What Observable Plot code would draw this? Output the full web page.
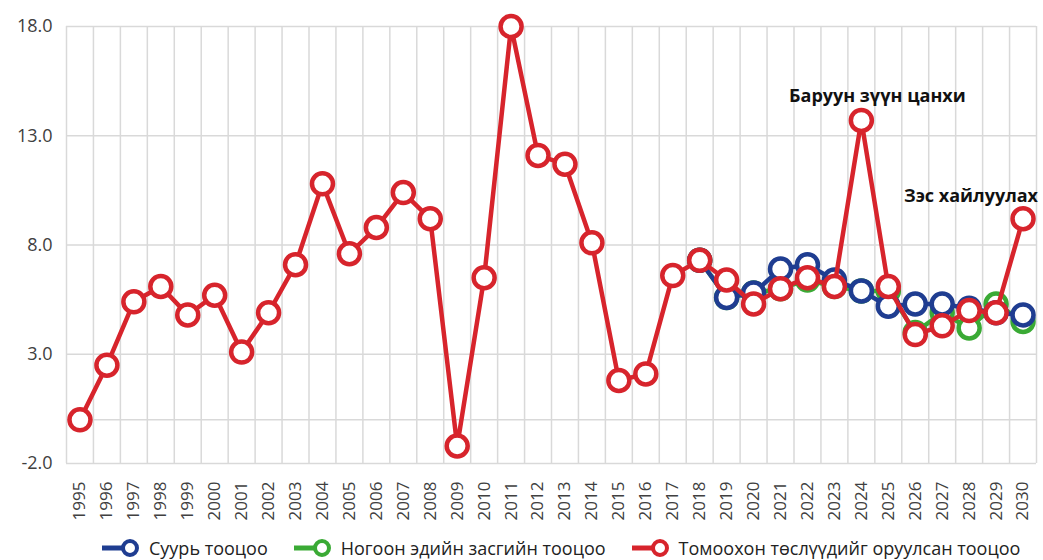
<!DOCTYPE html>
<html>
<head>
<meta charset="utf-8">
<script src="https://cdn.jsdelivr.net/npm/d3@7"></script>
<script src="https://cdn.jsdelivr.net/npm/@observablehq/plot@0.6"></script>
<style>
  body { margin: 0; background: #fff; font-family: "Open Sans", sans-serif; }
  #legend { display: flex; align-items: center; height: 25px; padding-left: 102px; font-size: 18px; color: #222; }
  .item { display: flex; align-items: center; margin-right: 26px; white-space: nowrap; }
  .item svg { margin-right: 9px; }
</style>
</head>
<body>
<div id="chart"></div>
<div id="legend"></div>
<script>
// ---- data ----
const years = [1995, 1996, 1997, 1998, 1999, 2000, 2001, 2002, 2003, 2004, 2005, 2006,
               2007, 2008, 2009, 2010, 2011, 2012, 2013, 2014, 2015, 2016, 2017, 2018,
               2019, 2020, 2021, 2022, 2023, 2024, 2025, 2026, 2027, 2028, 2029, 2030];
const redValues = [0.0, 2.5, 5.4, 6.1, 4.8, 5.7, 3.1, 4.9, 7.1, 10.8, 7.6, 8.8,
                   10.4, 9.2, -1.2, 6.5, 18.0, 12.1, 11.7, 8.1, 1.8, 2.1, 6.6, 7.3,
                   6.4, 5.3, 6.0, 6.5, 6.1, 13.7, 6.1, 3.9, 4.3, 5.0, 4.9, 9.2];
const scenarioYears = [2018, 2019, 2020, 2021, 2022, 2023, 2024, 2025, 2026, 2027, 2028, 2029, 2030];
const blueValues  = [7.3, 5.6, 5.8, 6.9, 7.1, 6.4, 5.9, 5.2, 5.3, 5.3, 5.1, 4.9, 4.8];
const greenValues = [7.3, 5.6, 5.8, 6.0, 6.4, 6.1, 5.9, 5.9, 4.0, 4.9, 4.2, 5.3, 4.5];
const seriesNames = ["Суурь тооцоо", "Ногоон эдийн засгийн тооцоо", "Томоохон төслүүдийг оруулсан тооцоо"];
const seriesColors = ["#1f3d91", "#3aaa35", "#d7242c"];
const yTicks = [-2, 3, 8, 13, 18];
const gridValues = [-2, 0, 3, 8, 13, 18];
const annotationYears = [2024, 2030];
const annotationLabels = ["Баруун зүүн цанхи", "Зэс хайлуулах"];

// ---- layout ----
const W = 1043, H = 535, ML = 66, MR = 7, MT = 26, MB = 72;
const step = (W - ML - MR) / years.length;
const gridColor = "#d9d9d9";

const red = years.map((year, i) => ({year, value: redValues[i]}));
const blue = scenarioYears.map((year, i) => ({year, value: blueValues[i]}));
const green = scenarioYears.map((year, i) => ({year, value: greenValues[i]}));
const notes = annotationYears.map((year, i) => ({year, value: redValues[years.indexOf(year)], label: annotationLabels[i]}));

function series(data, color) {
  return [
    Plot.line(data, {x: "year", y: "value", stroke: color, strokeWidth: 4.5}),
    Plot.dot(data, {x: "year", y: "value", r: 10.5, fill: "#fff", stroke: color, strokeWidth: 4.5})
  ];
}

const chart = Plot.plot({
  width: W, height: H,
  marginLeft: ML, marginRight: MR, marginTop: MT, marginBottom: MB,
  style: {fontFamily: "Open Sans, sans-serif", fontSize: "18px", color: "#404040", background: "#fff", overflow: "visible"},
  x: {type: "point", domain: years, padding: 0.5},
  y: {domain: [-2, 18]},
  marks: [
    Plot.ruleY(gridValues, {stroke: gridColor, strokeWidth: 1.5}),
    Plot.ruleX(years, {dx: -step / 2, stroke: gridColor, strokeWidth: 1.5}),
    Plot.ruleX([years[years.length - 1]], {dx: step / 2, stroke: gridColor, strokeWidth: 1.5}),
    Plot.axisY({ticks: yTicks, tickFormat: d => d.toFixed(1), tickSize: 0, tickPadding: 14, label: null, fontSize: 18}),
    Plot.axisX({tickRotate: -90, tickFormat: d => String(d), tickSize: 0, tickPadding: 18, label: null, fontSize: 17}),
    ...series(green, seriesColors[1]),
    ...series(blue, seriesColors[0]),
    ...series(red, seriesColors[2]),
    Plot.text(notes.slice(0, 1), {x: "year", y: "value", text: "label", dx: 16, dy: -24, fontWeight: "bold", fontSize: 18, fill: "#111"}),
    Plot.text(notes.slice(1), {x: "year", y: "value", text: "label", dx: 15, dy: -23, textAnchor: "end", fontWeight: "bold", fontSize: 18, fill: "#111"})
  ]
});
document.getElementById("chart").appendChild(chart);

// ---- legend ----
const legend = document.getElementById("legend");
seriesNames.forEach((name, i) => {
  const item = document.createElement("div");
  item.className = "item";
  item.innerHTML = `<svg width="38" height="24"><line x1="0" x2="22" y1="12" y2="12" stroke="${seriesColors[i]}" stroke-width="5"/><circle cx="28" cy="12" r="7" fill="#fff" stroke="${seriesColors[i]}" stroke-width="4"/></svg><span>${name}</span>`;
  legend.appendChild(item);
});
</script>
</body>
</html>
